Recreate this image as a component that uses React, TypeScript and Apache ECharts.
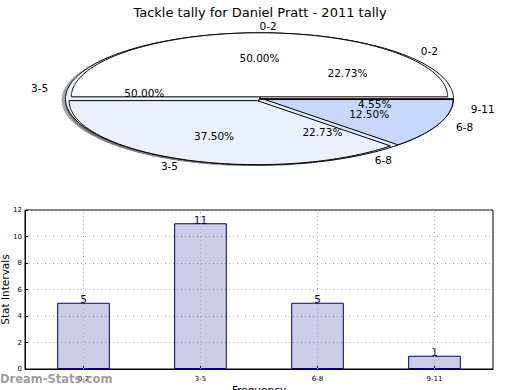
import React, { useEffect, useRef } from 'react';
import * as echarts from 'echarts';

const chartTitle = 'Tackle tally for Daniel Pratt - 2011 tally';

// Bar chart data
const barCategories = ['0-2', '3-5', '6-8', '9-11'];
const barValues = [5, 11, 5, 1];
const yAxisName = 'Stat Intervals';
const xAxisName = 'Frequency';

// Back pie (drawn first)
const backPieLabels = ['0-2', '3-5', '6-8', '9-11'];
const backPieValues = [5, 11, 5, 1];
const backPieColors = ['#ffffff', '#eaf1fd', '#e2ebfd', '#c6d9fd'];
const backPieExplode = [0, 0, 0, 0];

// Front pie (drawn on top)
const frontPieLabels = ['0-2', '3-5', '6-8'];
const frontPieValues = [4, 3, 1];
const frontPieColors = ['#ffffff', '#eaf1fd', '#c6d9fd'];
const frontPieExplode = [0.03, 0.03, 0.03];

const watermark = 'Dream-Stats.com';

// layout
const PIE = { cx: 259.5, cy: 98.8, rx: 194, ry: 66 };
const FONT = 'DejaVu Sans';

type Wedge = { t1: number; t2: number; mid: number; pct: number; ex: number; ey: number };

function computeWedges(values: number[], explode: number[]): Wedge[] {
  const total = values.reduce((a, b) => a + b, 0);
  let acc = 0;
  return values.map((v, i) => {
    const t1 = (acc / total) * 360;
    acc += v;
    const t2 = (acc / total) * 360;
    const mid = (t1 + t2) / 2;
    const rad = (mid * Math.PI) / 180;
    return {
      t1,
      t2,
      mid,
      pct: (v / total) * 100,
      ex: explode[i] * PIE.rx * Math.cos(rad),
      ey: -explode[i] * PIE.ry * Math.sin(rad),
    };
  });
}

function sectorPoints(w: Wedge, r: number, dx: number, dy: number): number[][] {
  const cx = PIE.cx + w.ex + dx;
  const cy = PIE.cy + w.ey + dy;
  const pts: number[][] = [[cx, cy]];
  const steps = Math.max(2, Math.ceil((w.t2 - w.t1) / 1));
  for (let k = 0; k <= steps; k++) {
    const t = ((w.t1 + ((w.t2 - w.t1) * k) / steps) * Math.PI) / 180;
    pts.push([cx + r * PIE.rx * Math.cos(t), cy - r * PIE.ry * Math.sin(t)]);
  }
  return pts;
}

function wedgeSeries(values: number[], explode: number[], colors: string[], r: number, shadow: boolean) {
  const ws = computeWedges(values, explode);
  return {
    type: 'custom',
    coordinateSystem: 'none',
    silent: true,
    data: values.map((v) => [v]),
    renderItem: (params: any) => {
      const w = ws[params.dataIndex];
      if (shadow) {
        return {
          type: 'polygon',
          shape: { points: sectorPoints(w, r, -0.02 * PIE.rx, 0.02 * PIE.ry) },
          style: { fill: 'rgba(77,77,77,0.5)', stroke: 'none' },
        };
      }
      return {
        type: 'polygon',
        shape: { points: sectorPoints(w, r, 0, 0) },
        style: { fill: colors[params.dataIndex], stroke: '#000', lineWidth: 1, lineJoin: 'round' },
      };
    },
  };
}

function labelSeries(values: number[], labels: string[], explode: number[], r: number) {
  const ws = computeWedges(values, explode);
  return {
    type: 'custom',
    coordinateSystem: 'none',
    silent: true,
    data: values.map((v) => [v]),
    renderItem: (params: any) => {
      const w = ws[params.dataIndex];
      const rad = (w.mid * Math.PI) / 180;
      const c = Math.cos(rad);
      const s = Math.sin(rad);
      const bx = PIE.cx + w.ex;
      const by = PIE.cy + w.ey;
      return {
        type: 'group',
        children: [
          {
            type: 'text',
            x: bx + 1.1 * r * PIE.rx * c,
            y: by - 1.1 * r * PIE.ry * s,
            style: {
              text: labels[params.dataIndex],
              fill: '#000',
              fontSize: 10.5,
              fontFamily: FONT,
              align: c > -1e-9 ? 'left' : 'right',
              verticalAlign: 'middle',
            },
          },
          {
            type: 'text',
            x: bx + 0.6 * r * PIE.rx * c,
            y: by - 0.6 * r * PIE.ry * s,
            style: {
              text: w.pct.toFixed(2) + '%',
              fill: '#000',
              fontSize: 10.5,
              fontFamily: FONT,
              align: 'center',
              verticalAlign: 'middle',
            },
          },
        ],
      };
    },
  };
}

export default function App() {
  const ref = useRef<HTMLDivElement>(null);
  useEffect(() => {
    document.body.style.margin = '0';
    if (!ref.current) return;
    const chart = echarts.init(ref.current, undefined, { renderer: 'svg' });
    const option: any = {
      animation: false,
      backgroundColor: '#fff',
      title: {
        text: chartTitle,
        left: 'center',
        top: 1,
        textStyle: { fontFamily: FONT, fontSize: 13, fontWeight: 'normal', color: '#000' },
      },
      graphic: [
        {
          type: 'text',
          left: 0,
          top: 373,
          z: 100,
          style: {
            text: watermark,
            fill: 'rgba(140,140,140,0.85)',
            fontSize: 11.5,
            fontWeight: 'bold',
            fontFamily: FONT,
          },
        },
      ],
      grid: {
        left: 25,
        right: 27,
        top: 210,
        bottom: 21,
        show: true,
        borderColor: '#000',
        borderWidth: 1,
        outerBoundsMode: 'none',
        containLabel: false,
      },
      xAxis: {
        type: 'category',
        data: barCategories,
        name: xAxisName,
        nameLocation: 'middle',
        nameGap: 15,
        nameMoveOverlap: false,
        nameTextStyle: { fontFamily: FONT, fontSize: 10.5, color: '#000' },
        axisLine: { show: true, lineStyle: { color: '#000' } },
        axisTick: { show: true, alignWithLabel: true, inside: true, length: 3, lineStyle: { color: '#000' } },
        axisLabel: { fontFamily: FONT, fontSize: 7, color: '#000', margin: 6 },
        splitLine: { show: false },
      },
      yAxis: {
        type: 'value',
        min: 0,
        max: 12,
        interval: 2,
        name: yAxisName,
        nameLocation: 'middle',
        nameGap: 15,
        nameMoveOverlap: false,
        nameTextStyle: { fontFamily: FONT, fontSize: 10.5, color: '#000' },
        axisLine: { show: true, lineStyle: { color: '#000' } },
        axisTick: { show: true, inside: true, length: 3, lineStyle: { color: '#000' } },
        axisLabel: { fontFamily: FONT, fontSize: 7, color: '#000', margin: 3 },
        splitLine: { show: true, lineStyle: { color: '#b0b0b0', type: [1, 3], width: 1 } },
      },
      series: [
        wedgeSeries(backPieValues, backPieExplode, backPieColors, 1, true),
        wedgeSeries(frontPieValues, frontPieExplode, frontPieColors, 0.97, true),
        wedgeSeries(backPieValues, backPieExplode, backPieColors, 1, false),
        wedgeSeries(frontPieValues, frontPieExplode, frontPieColors, 0.97, false),
        labelSeries(backPieValues, backPieLabels, backPieExplode, 1),
        labelSeries(frontPieValues, frontPieLabels, frontPieExplode, 0.97),
        {
          type: 'bar',
          data: barValues,
          barWidth: '45%',
          itemStyle: { color: 'rgba(0,0,128,0.2)', borderColor: '#000080', borderWidth: 1 },
          label: {
            show: true,
            position: 'top',
            distance: -2,
            color: '#000080',
            fontFamily: FONT,
            fontSize: 10.5,
          },
          markLine: {
            silent: true,
            symbol: ['none', 'none'],
            label: { show: false },
            lineStyle: { color: '#b0b0b0', type: [1, 3], width: 1 },
            data: barCategories.map((c) => ({ xAxis: c })),
          },
        },
      ],
    };
    chart.setOption(option);
    return () => chart.dispose();
  }, []);
  return <div ref={ref} style={{ width: 520, height: 390 }} />;
}
